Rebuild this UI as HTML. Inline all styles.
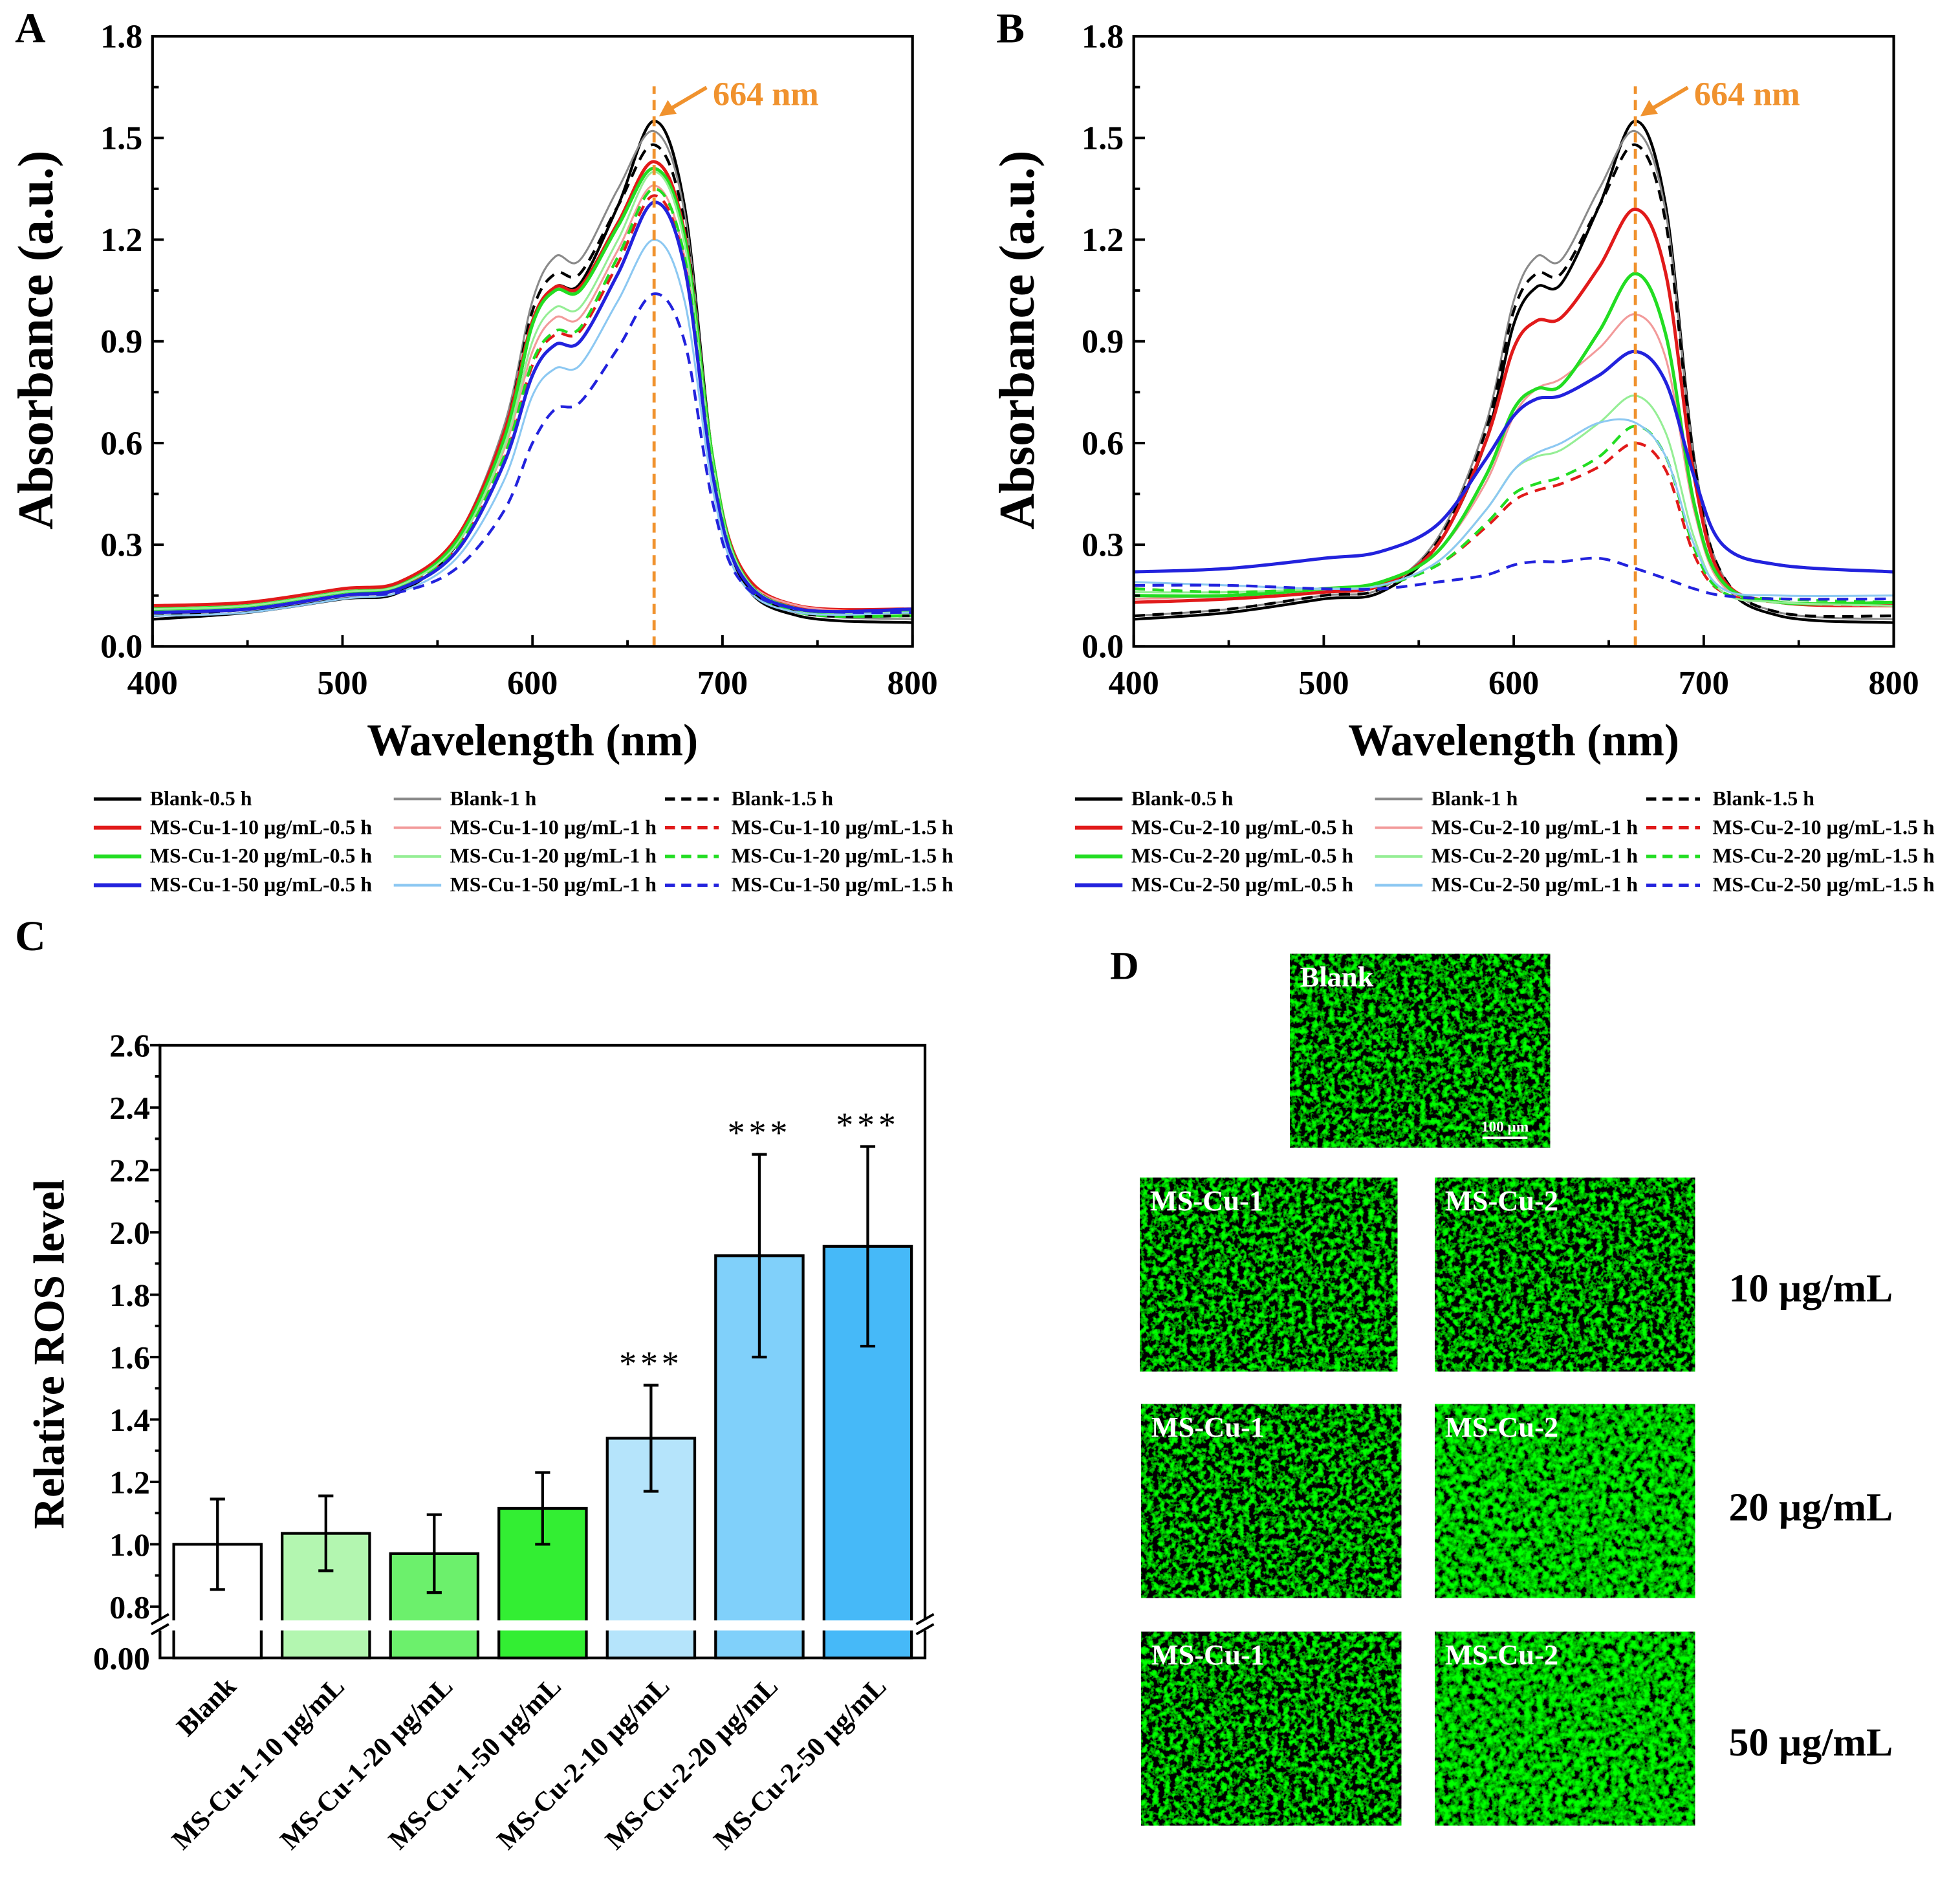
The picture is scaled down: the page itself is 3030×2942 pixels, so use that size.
<!DOCTYPE html>
<html><head><meta charset="utf-8">
<style>
html,body{margin:0;padding:0;background:#fff;}
svg{display:block;font-family:"Liberation Serif",serif;font-weight:bold;}
</style></head>
<body>
<svg id="fig" width="3030" height="2942" viewBox="0 0 1568 1522" preserveAspectRatio="none" xmlns="http://www.w3.org/2000/svg">
<defs>
<filter id="cells" x="0" y="0" width="100%" height="100%">
<feTurbulence type="fractalNoise" baseFrequency="0.22" numOctaves="3" seed="4"/>
<feColorMatrix type="matrix" values="0 0 0 0 0  3.6 0 0 0 -1.55  0 0 0 0 0  0 0 0 0 1"/>
</filter>
<filter id="cells2" x="0" y="0" width="100%" height="100%">
<feTurbulence type="fractalNoise" baseFrequency="0.2" numOctaves="3" seed="9"/>
<feColorMatrix type="matrix" values="0 0 0 0 0  3.0 0 0 0 -1.0  0 0 0 0 0  0 0 0 0 1"/>
</filter>
</defs>
<rect width="1568" height="1522" fill="#fff"/>
<g id="root"></g>
</svg>
<script>
// ---- spectra data ----
const wl = [400,450,500,530,560,585,600,612,625,645,664,680,695,710,740,800];
const aBlank05 = [.08,.10,.14,.16,.30,.60,.95,1.06,1.07,1.30,1.55,1.30,.55,.20,.09,.07];
const aBlank1  = [.09,.11,.15,.17,.32,.65,1.02,1.15,1.14,1.35,1.52,1.28,.55,.21,.10,.08];
const aBlank15 = [.09,.11,.15,.17,.31,.63,.99,1.10,1.10,1.30,1.48,1.25,.54,.21,.10,.09];
const aCu1_10_05 = [.12,.13,.17,.19,.32,.63,.96,1.06,1.06,1.25,1.43,1.22,.55,.23,.12,.11];
const aCu1_10_1  = [.11,.12,.16,.18,.30,.58,.87,.97,.97,1.17,1.36,1.15,.52,.22,.12,.10];
const aCu1_10_15 = [.11,.12,.16,.18,.29,.55,.83,.92,.93,1.13,1.33,1.13,.51,.22,.11,.10];
const aCu1_20_05 = [.11,.12,.16,.18,.31,.61,.95,1.05,1.05,1.24,1.41,1.21,.55,.22,.11,.10];
const aCu1_20_1  = [.11,.12,.16,.18,.30,.59,.90,1.00,1.00,1.20,1.40,1.19,.54,.22,.11,.10];
const aCu1_20_15 = [.10,.11,.15,.17,.29,.56,.84,.93,.94,1.15,1.35,1.15,.52,.21,.10,.09];
const aCu1_50_05 = [.10,.11,.15,.17,.28,.54,.80,.89,.90,1.10,1.31,1.12,.50,.21,.11,.11];
const aCu1_50_1  = [.09,.10,.14,.16,.26,.49,.74,.82,.83,1.02,1.20,1.02,.46,.19,.10,.10];
const aCu1_50_15 = [.10,.11,.15,.16,.23,.40,.60,.70,.72,.88,1.04,.90,.42,.19,.11,.10];
const bCu2_10_05 = [.13,.14,.16,.18,.30,.60,.88,.96,.97,1.12,1.29,1.10,.50,.20,.13,.12];
const bCu2_10_1  = [.14,.15,.17,.19,.28,.48,.68,.76,.79,.88,.98,.85,.40,.18,.13,.12];
const bCu2_10_15 = [.17,.16,.17,.18,.24,.35,.43,.46,.48,.53,.60,.52,.27,.16,.13,.12];
const bCu2_20_05 = [.15,.15,.17,.19,.28,.50,.70,.76,.77,.93,1.10,.92,.42,.19,.13,.13];
const bCu2_20_1  = [.16,.16,.17,.18,.25,.40,.52,.56,.58,.66,.74,.63,.32,.16,.13,.12];
const bCu2_20_15 = [.17,.16,.17,.18,.24,.36,.45,.48,.50,.56,.65,.56,.29,.16,.14,.13];
const bCu2_50_05 = [.22,.23,.26,.28,.36,.55,.68,.73,.74,.80,.87,.78,.50,.30,.24,.22];
const bCu2_50_1  = [.19,.18,.17,.18,.25,.40,.52,.57,.60,.66,.66,.56,.30,.17,.15,.15];
const bCu2_50_15 = [.18,.18,.17,.17,.19,.21,.24,.25,.25,.26,.23,.20,.17,.15,.14,.14];
const xTicks = [400,500,600,700,800];
const yTicksA = [0.0,0.3,0.6,0.9,1.2,1.5,1.8];
// ---- ROS bar data ----
const rosCats = ["Blank","MS-Cu-1-10 µg/mL","MS-Cu-1-20  µg/mL","MS-Cu-1-50  µg/mL","MS-Cu-2-10  µg/mL","MS-Cu-2-20  µg/mL","MS-Cu-2-50  µg/mL"];
const rosVals = [1.0,1.035,0.97,1.115,1.34,1.925,1.955];
const rosErr = [0.145,0.12,0.125,0.115,0.17,0.325,0.32];
const rosSig = ["","","","","***","***","***"];
const rosTicks = [0.8,1.0,1.2,1.4,1.6,1.8,2.0,2.2,2.4,2.6];

const NS="http://www.w3.org/2000/svg";
const root=document.getElementById('root');
function el(tag,attrs,parent,text){const e=document.createElementNS(NS,tag);for(const k in attrs)e.setAttribute(k,attrs[k]);if(text!==undefined)e.textContent=text;(parent||root).appendChild(e);return e;}
function smooth(pts){let d=`M${pts[0][0]},${pts[0][1]}`;for(let i=0;i<pts.length-1;i++){const p0=pts[i-1]||pts[i],p1=pts[i],p2=pts[i+1],p3=pts[i+2]||p2;const c1=[p1[0]+(p2[0]-p0[0])/6,p1[1]+(p2[1]-p0[1])/6],c2=[p2[0]-(p3[0]-p1[0])/6,p2[1]-(p3[1]-p1[1])/6];d+=` C${c1[0].toFixed(1)},${c1[1].toFixed(1)} ${c2[0].toFixed(1)},${c2[1].toFixed(1)} ${p2[0].toFixed(1)},${p2[1].toFixed(1)}`;}return d;}

const K='#000',GR='#8a8a8a',R='#e11a1a',LR='#f29a9a',G='#22dd22',LG='#95ee95',B='#2222dd',LB='#8cc8f2',OR='#f0922e';

function spectrum(panel,x0,letter,series,names){
  const L=x0,Rr=x0+608,T=29,Bt=517;
  const sx=v=>L+(v-400)/400*608, sy=v=>Bt-v/1.8*(Bt-T);
  const g=el('g',{});  
  const lt=el('text',{x:x0-110,y:34,'font-size':34},g,letter);
   
  const sg=el('g',{fill:'none'},g);
  series.forEach((s,i)=>{const p=el('path',{d:smooth(wl.map((w,j)=>[sx(w),sy(s.v[j])])),stroke:s.c,'stroke-width':s.w,'stroke-dasharray':s.dash?'9,6':'none',fill:'none'},sg);
     });
  const vl=el('line',{x1:sx(664),x2:sx(664),y1:Bt,y2:T+40,stroke:OR,'stroke-width':2.5,'stroke-dasharray':'8,5'},g);
   
  const ar=el('path',{d:`M${sx(664)+42},${70} L${sx(664)+8},${90}`,stroke:OR,'stroke-width':3,fill:'none'},g);
   
  el('path',{d:`M${sx(664)+4},${93} l14,-2 l-7,-11 z`,fill:OR},g);
  const at=el('text',{x:sx(664)+47,y:84,'font-size':27,fill:OR},g,'664 nm');
   
  const fr=el('rect',{x:L,y:T,width:608,height:Bt-T,fill:'none',stroke:'#000','stroke-width':2.2},g);
   
  for(let v=400;v<=800;v+=50){const x=sx(v);el('line',{x1:x,x2:x,y1:Bt,y2:Bt-(v%100?5:9),stroke:'#000','stroke-width':2},g);}
  xTicks.forEach(v=>{const t=el('text',{x:sx(v),y:555,'font-size':27,'text-anchor':'middle'},g,String(v));});
  for(let v=0;v<=1.8001;v+=0.15){const y=sy(v);const maj=Math.abs(v/0.3-Math.round(v/0.3))<1e-6;el('line',{x1:L,x2:L+(maj?9:5),y1:y,y2:y,stroke:'#000','stroke-width':2},g);}
  yTicksA.forEach(v=>{const t=el('text',{x:L-8,y:sy(v)+9,'font-size':27,'text-anchor':'end'},g,v.toFixed(1));});
  const xt=el('text',{x:L+304,y:604,'font-size':36,'text-anchor':'middle'},g,'Wavelength (nm)');
   
  const yt=el('text',{x:0,y:0,'font-size':40,'text-anchor':'middle',transform:`translate(${L-80},272) rotate(-90)`},g,'Absorbance (a.u.)');
   
  const cols=[[x0-47,x0-9,x0-2],[x0+193,x0+231,x0+238],[x0+410,x0+453,x0+463]];
  series.forEach((s,i)=>{const col=i%3,row=Math.floor(i/3);const cc=cols[col];const y=639+row*23;
    const lg=el('g',{},g);  
    el('line',{x1:cc[0],x2:cc[1],y1:y,y2:y,stroke:s.c,'stroke-width':s.w+0.5,'stroke-dasharray':s.dash?'8,5':'none'},lg);
    el('text',{x:cc[2],y:y+5,'font-size':16.5},lg,names[i]);});
}
function mk(c,v,w,dash){return {c,v,w,dash};}
const namesA=['Blank-0.5 h','Blank-1 h','Blank-1.5 h','MS-Cu-1-10 µg/mL-0.5 h','MS-Cu-1-10 µg/mL-1 h','MS-Cu-1-10 µg/mL-1.5 h','MS-Cu-1-20 µg/mL-0.5 h','MS-Cu-1-20 µg/mL-1 h','MS-Cu-1-20 µg/mL-1.5 h','MS-Cu-1-50 µg/mL-0.5 h','MS-Cu-1-50 µg/mL-1 h','MS-Cu-1-50 µg/mL-1.5 h'];
const namesB=namesA.map(n=>n.replace('MS-Cu-1','MS-Cu-2'));
spectrum('spectra-a',122,'A',[mk(K,aBlank05,2.2),mk(GR,aBlank1,1.6),mk(K,aBlank15,2.2,1),mk(R,aCu1_10_05,2.6),mk(LR,aCu1_10_1,1.6),mk(R,aCu1_10_15,2.2,1),mk(G,aCu1_20_05,2.6),mk(LG,aCu1_20_1,1.6),mk(G,aCu1_20_15,2.2,1),mk(B,aCu1_50_05,2.6),mk(LB,aCu1_50_1,1.6),mk(B,aCu1_50_15,2.2,1)],namesA);
spectrum('spectra-b',907,'B',[mk(K,aBlank05,2.2),mk(GR,aBlank1,1.6),mk(K,aBlank15,2.2,1),mk(R,bCu2_10_05,2.6),mk(LR,bCu2_10_1,1.6),mk(R,bCu2_10_15,2.2,1),mk(G,bCu2_20_05,2.6),mk(LG,bCu2_20_1,1.6),mk(G,bCu2_20_15,2.2,1),mk(B,bCu2_50_05,2.6),mk(LB,bCu2_50_1,1.6),mk(B,bCu2_50_15,2.2,1)],namesB);

// ---- panel C ----
(function(){
  const L=128,Rr=740,T=836,Bt=1326,brk=1300;
  const sy=v=>1285-(v-0.8)/0.2*49.9;
  const g=el('g',{});  
  const lt=el('text',{x:12,y:760,'font-size':34},g,'C');  
  const cols=['#ffffff','#b3f6b0','#6cf06c','#33ee33','#b5e4fb','#80d0fa','#46b9f8'];
  const step=86.7,x0=174,bw=70;
  rosVals.forEach((v,i)=>{const cx=x0+i*step;
    const b=el('rect',{x:cx-bw/2,y:sy(v),width:bw,height:Bt-sy(v),fill:cols[i],stroke:'#000','stroke-width':2.2},g);
     
    const e=el('path',{d:`M${cx},${sy(v+rosErr[i])}V${sy(v-rosErr[i])}M${cx-6},${sy(v+rosErr[i])}h12M${cx-6},${sy(v-rosErr[i])}h12`,stroke:'#000','stroke-width':2.2,fill:'none'},g);
     
    if(rosSig[i]){const s=el('text',{x:cx,y:sy(v+rosErr[i])-8,'font-size':28,'font-weight':'normal','text-anchor':'middle','letter-spacing':'3'},g,rosSig[i]);}
    const t=el('text',{x:0,y:0,'font-size':22,'text-anchor':'end',transform:`translate(${cx+16},${1350}) rotate(-45)`},g,rosCats[i]);
     
  });
  const fr=el('rect',{x:L,y:T,width:Rr-L,height:Bt-T,fill:'none',stroke:'#000','stroke-width':2.2},g);
   
  for(let v=0.8;v<=2.601;v+=0.1){const y=sy(v);const maj=Math.round(v*10)%2===0;el('line',{x1:L,x2:L-(maj?8:4),y1:y,y2:y,stroke:'#000','stroke-width':2},g);}
  rosTicks.forEach(v=>{const t=el('text',{x:L-8,y:sy(v)+9,'font-size':26,'text-anchor':'end'},g,v.toFixed(1));});
  const z=el('text',{x:L-8,y:Bt+9,'font-size':26,'text-anchor':'end'},g,'0.00');  
  const br=el('rect',{x:L-12,y:brk-4,width:Rr-L+24,height:8,fill:'#fff'},g);  
  [L,Rr].forEach(x=>{el('path',{d:`M${x-7},${brk-1}l14,-8M${x-7},${brk+7}l14,-8`,stroke:'#000','stroke-width':2},g);});
  const yt=el('text',{x:0,y:0,'font-size':35,'text-anchor':'middle',transform:`translate(51,1083) rotate(-90)`},g,'Relative ROS level');
   
})();

// ---- panel D ----
(function(){
  const g=el('g',{});  
  const lt=el('text',{x:888,y:783,'font-size':32},g,'D');  
  const imgs=[['Blank',1032,763,208,155],['MS-Cu-1',912,942,206,155],['MS-Cu-2',1148,942,208,155],['MS-Cu-1',913,1123,208,155],['MS-Cu-2',1148,1123,208,155],['MS-Cu-1',913,1305,208,155],['MS-Cu-2',1148,1305,208,155]];
  imgs.forEach((m,i)=>{const ig=el('g',{},g);  
    el('rect',{x:m[1],y:m[2],width:m[3],height:m[4],fill:'#000'},ig);
    el('rect',{x:m[1],y:m[2],width:m[3],height:m[4],filter:(i===6||i===4)?'url(#cells2)':'url(#cells)'},ig);
    el('text',{x:m[1]+8,y:m[2]+26,'font-size':23,fill:'#fff'},ig,m[0]);});
  el('line',{x1:1186,x2:1222,y1:910,y2:910,stroke:'#fff','stroke-width':2},g);
  const sb=el('text',{x:1185,y:905,'font-size':12,fill:'#fff'},g,'100 µm');  
  [['10 µg/mL',1030],['20 µg/mL',1205],['50 µg/mL',1393]].forEach((c,i)=>{const t=el('text',{x:1383,y:c[1]+11,'font-size':32},g,c[0]);});
})();
</script>
</body></html>
